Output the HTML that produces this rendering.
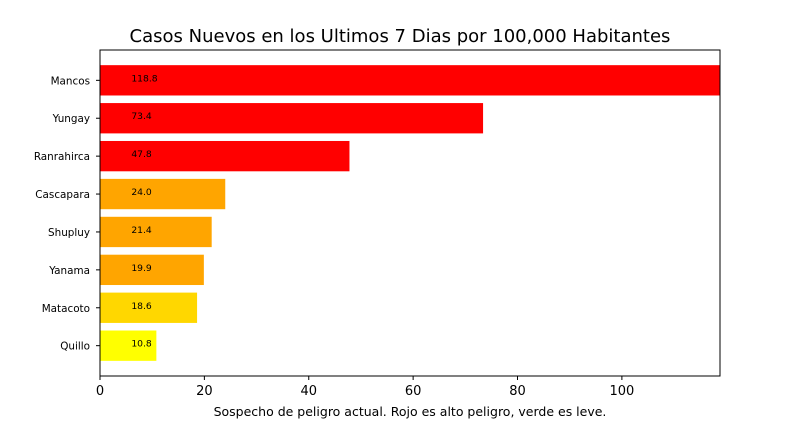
<!DOCTYPE html>
<html><head><meta charset="utf-8"><style>
body{margin:0;background:#fff;}
svg{display:block;font-family:"DejaVu Sans","Liberation Sans",sans-serif;}
</style></head><body>
<svg id="chart" width="800" height="423" viewBox="0 0 800 423">
<text x="400" y="42" text-anchor="middle" font-size="18">Casos Nuevos en los Ultimos 7 Dias por 100,000 Habitantes</text>
<g id="bars"></g>
<g id="axes"></g>
<text x="410" y="416" text-anchor="middle" font-size="12.5">Sospecho de peligro actual. Rojo es alto peligro, verde es leve.</text>
</svg>
<script>
const categories = ["Mancos","Yungay","Ranrahirca","Cascapara","Shupluy","Yanama","Matacoto","Quillo"];
const values = [118.8,73.4,47.8,24.0,21.4,19.9,18.6,10.8];
const barColors = ["#ff0000","#ff0000","#ff0000","#ffa500","#ffa500","#ffa500","#ffd700","#ffff00"];
const xTicks = [0,20,40,60,80,100];

const L=100,R=720,T=50,B=376;
const xMax=Math.max(...values);
const x=v=>L+(v/xMax)*(R-L);
const n=categories.length;
const step=(B-T)/(n+0.6);
const yc=i=>T+step*(0.8+i);
const bh=step*0.8;
const NS="http://www.w3.org/2000/svg";
const bars=document.getElementById('bars'), axes=document.getElementById('axes');
function mk(tag,attrs,parent){const e=document.createElementNS(NS,tag);for(const k in attrs)e.setAttribute(k,attrs[k]);parent.appendChild(e);return e;}
categories.forEach((c,i)=>{
  const r=mk('rect',{x:x(0),y:yc(i)-bh/2,width:x(values[i])-x(0),height:bh,fill:barColors[i]},bars);
  
  
  const t=mk('text',{x:x(6),y:yc(i)+1,'font-size':9.2},bars);
  t.textContent=values[i].toFixed(1);
  
  
  const tk=mk('line',{x1:L-4,x2:L,y1:yc(i),y2:yc(i),stroke:'#000'},axes);
  
  
  const lb=mk('text',{x:L-10,y:yc(i)+4,'font-size':10.4,'text-anchor':'end'},axes);
  lb.textContent=c;
  
  
});
xTicks.forEach(v=>{
  const tk=mk('line',{x1:x(v),x2:x(v),y1:B,y2:B+4,stroke:'#000'},axes);
  
  
  const lb=mk('text',{x:x(v),y:B+19,'font-size':13,'text-anchor':'middle'},axes);
  lb.textContent=v;
  
  
});
const fr=mk('rect',{x:L,y:T,width:R-L,height:B-T,fill:'none',stroke:'#000','stroke-width':1},axes);


</script>
</body></html>
